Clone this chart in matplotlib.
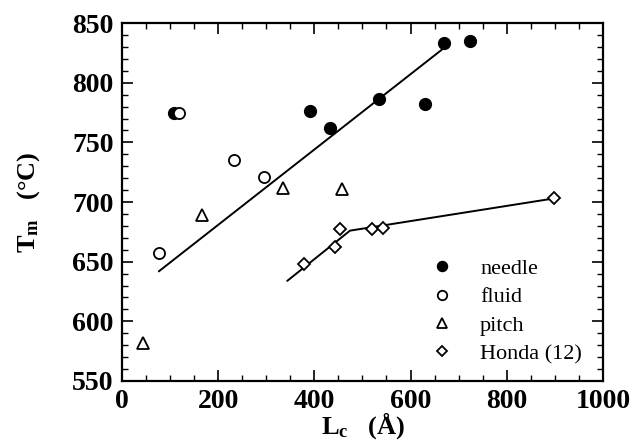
import matplotlib
matplotlib.use('Agg')
from matplotlib import pyplot as plt

# данные
needle_x = [108, 390, 433, 535, 630, 670, 724]
needle_y = [775, 776, 762, 786, 782, 833, 835]
fluid_x = [76, 118, 233, 296]
fluid_y = [657, 775, 735, 721]
pitch_x = [44, 166, 334, 457]
pitch_y = [582, 689, 712, 711]
honda_x = [378, 443, 453, 519, 542, 898]
honda_y = [648, 662, 677, 677, 678, 703]

fit1_x = [77, 669]
fit1_y = [642, 829]
fit2_x = [344, 474, 898]
fit2_y = [634, 676, 703]

plt.rcParams['font.family'] = 'Liberation Serif'
plt.rcParams['mathtext.fontset'] = 'custom'
plt.rcParams['mathtext.rm'] = 'Liberation Serif:bold'
plt.rcParams['mathtext.it'] = 'Liberation Serif:bold'
plt.rcParams['mathtext.bf'] = 'Liberation Serif:bold'

fig = plt.figure(figsize=(6.32, 4.45), dpi=100)
ax = fig.add_axes([0.193, 0.144, 0.761, 0.804])

ax.plot(fit1_x, fit1_y, color='black', linewidth=1.4)
ax.plot(fit2_x, fit2_y, color='black', linewidth=1.4)

ax.plot(needle_x, needle_y, 'o', color='black', markersize=8.5, linestyle='none', label='needle')
ax.plot(fluid_x, fluid_y, 'o', markerfacecolor='white', markeredgecolor='black',
        markeredgewidth=1.3, markersize=8, linestyle='none', label='fluid')
ax.plot(pitch_x, pitch_y, '^', markerfacecolor='white', markeredgecolor='black',
        markeredgewidth=1.3, markersize=8.5, linestyle='none', label='pitch')
ax.plot(honda_x, honda_y, 'D', markerfacecolor='white', markeredgecolor='black',
        markeredgewidth=1.3, markersize=6.5, linestyle='none', label='Honda (12)')

ax.set_xlim([0, 1000])
ax.set_ylim([550, 850])
ax.set_xticks(range(0, 1001, 200))
ax.set_yticks(range(550, 851, 50))
ax.set_xticks(range(0, 1001, 50), minor=True)
ax.set_yticks(range(550, 851, 10), minor=True)
ax.tick_params(axis='both', which='major', direction='in', length=8, width=1.2,
               top=True, right=True, labelsize=20, pad=6)
ax.tick_params(axis='both', which='minor', direction='in', length=4, width=1,
               top=True, right=True)
for lab in ax.get_xticklabels() + ax.get_yticklabels():
    lab.set_fontweight('bold')
for sp in ax.spines.values():
    sp.set_linewidth(1.6)

ax.set_xlabel(r'L$_\mathrm{c}$   (Å)', fontsize=19, fontweight='bold')
ax.set_ylabel(r'T$_\mathrm{m}$   (°C)', fontsize=19, fontweight='bold')
ax.xaxis.set_label_coords(0.5, -0.083)
ax.yaxis.set_label_coords(-0.166, 0.5)

leg = ax.legend(loc='lower right', bbox_to_anchor=(0.975, 0.022), frameon=False,
                fontsize=16, handlelength=1.0, handletextpad=1.2, labelspacing=0.35,
                borderaxespad=0, markerscale=0.85)

plt.savefig('out.png', dpi=100)
